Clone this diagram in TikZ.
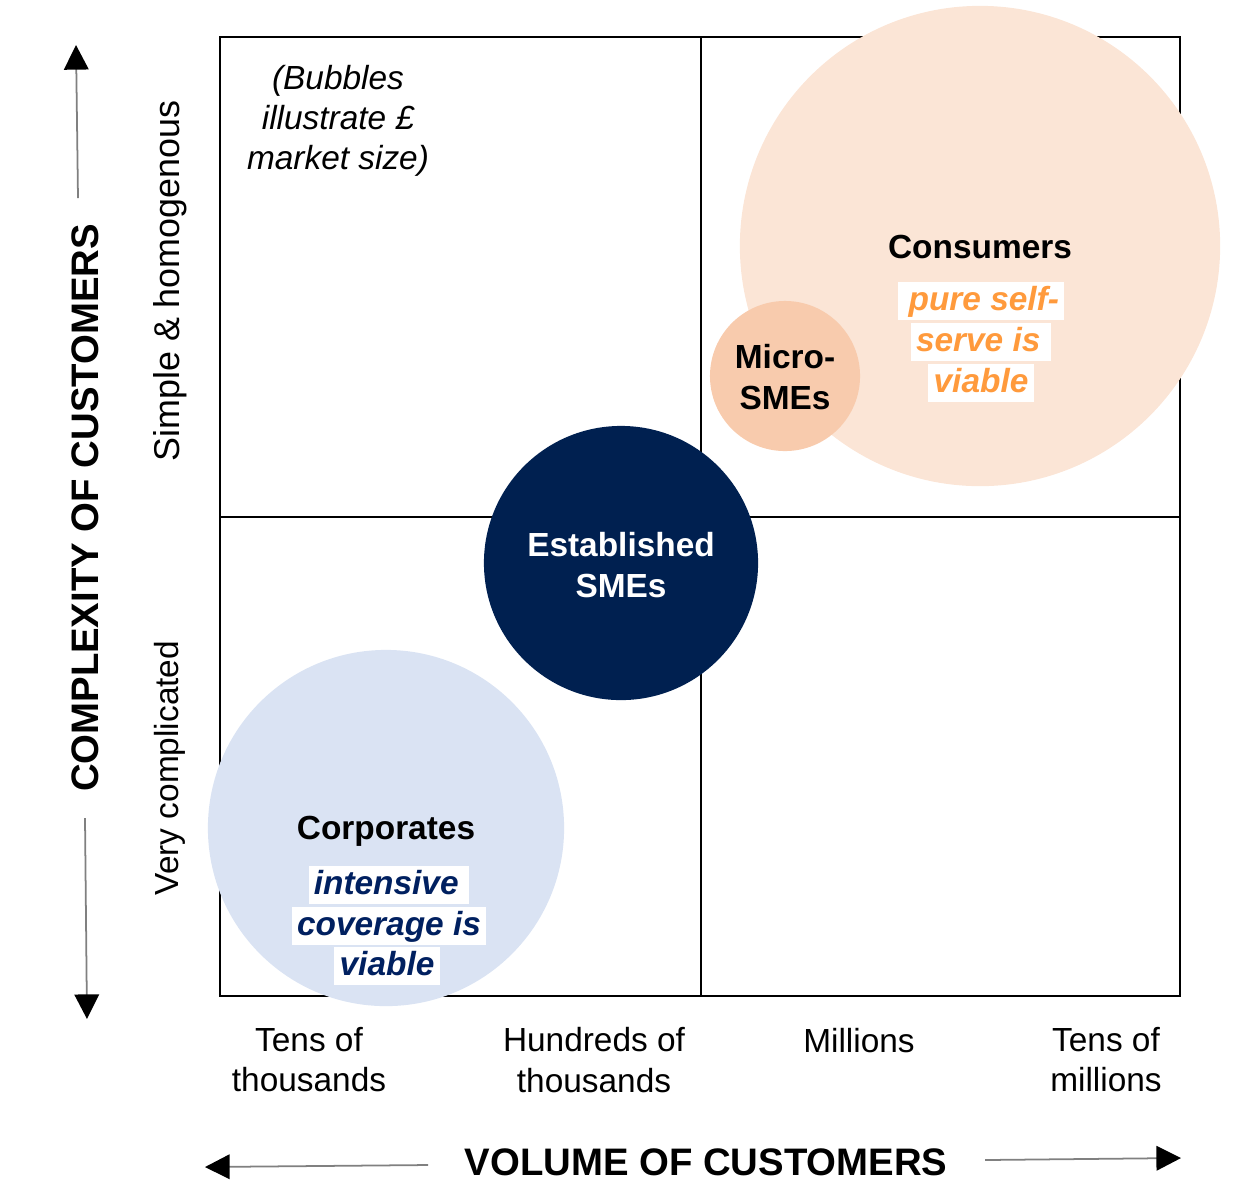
\documentclass[tikz,border=0pt]{standalone}
\usepackage{fontspec}
\setmainfont{Liberation Sans}
\usetikzlibrary{arrows.meta,positioning}
\definecolor{consfill}{HTML}{FBE5D6}
\definecolor{microfill}{HTML}{F8CBAD}
\definecolor{estfill}{HTML}{002050}
\definecolor{corpfill}{HTML}{DAE3F3}
\definecolor{orangetext}{HTML}{FF9A3C}
\definecolor{navytext}{HTML}{002060}
\tikzset{
  bubble/.style={circle, inner sep=0pt, draw=none},
  axistitle/.style={font=\fontsize{10.9}{13}\selectfont\bfseries},
  tick/.style={font=\fontsize{9.5}{11.4}\selectfont, align=center},
  bubblename/.style={font=\fontsize{9.5}{11.4}\selectfont\bfseries, align=center},
  verdict/.style={fill=white, inner xsep=1.5pt, inner ysep=0.6pt, text height=7.6pt, text depth=2pt,
    font=\fontsize{9.5}{11.4}\selectfont\bfseries\itshape},
  axisarrow/.style={draw=gray, line width=0.5pt, -{Triangle[length=7pt,width=7pt,color=black]}}
}

\begin{document}
\begin{tikzpicture}[x=0.01cm, y=-0.01cm]
\useasboundingbox (0,0) rectangle (1252,1202);

% quadrant frame
\draw[line width=0.5pt] (220,37) rectangle (1180,996);
\draw[line width=0.5pt] (701,37) -- (701,996);
\draw[line width=0.5pt] (220,517) -- (1180,517);

% bubbles
\node[bubble, fill=consfill, minimum size=4.8cm] (consumers) at (980,246) {};
\node[bubble, fill=microfill, minimum size=1.5cm] (micro) at (785,376) {};
\node[bubble, fill=estfill, minimum size=2.74cm] (established) at (621,563) {};
\node[bubble, fill=corpfill, minimum size=3.56cm] (corporates) at (386,828) {};

% bubble texts
\node[bubblename] (consname) at (980,247) {Consumers};
\node[verdict, text=orangetext] (cons1) at (981,301) {\,pure self-};
\node[verdict, text=orangetext] (cons2) at (981,342) {serve is\,};
\node[verdict, text=orangetext] (cons3) at (981,383) {viable};
\node[bubblename] (microname) at (785,377) {Micro-\\SMEs};
\node[bubblename, text=white] (estname) at (621,565) {Established\\SMEs};
\node[bubblename] (corpname) at (386,831) {Corporates};
\node[verdict, text=navytext] (corp1) at (389,885) {intensive\,};
\node[verdict, text=navytext] (corp2) at (389,926) {coverage is};
\node[verdict, text=navytext] (corp3) at (387,966) {viable};

\node[tick, font=\fontsize{9.5}{11.4}\selectfont\itshape] (note) at (338,121) {(Bubbles\\illustrate £\\market size)};

% vertical axis
\node[axistitle, rotate=90] (complexity) at (85,508) {COMPLEXITY OF CUSTOMERS};
\node[tick, rotate=90, font=\fontsize{10.2}{12}\selectfont] (simple) at (170,281) {Simple \& homogenous};
\node[tick, rotate=90] (complicated) at (170,768) {Very complicated};
\coordinate (up0) at (78,198);
\coordinate (up1) at (76,45);
\coordinate (down0) at (85,818);
\coordinate (down1) at (87,1019);
\draw[axisarrow] (up0) -- (up1);
\draw[axisarrow] (down0) -- (down1);

% horizontal axis
\node[tick] (tensk) at (309,1060) {Tens of\\thousands};
\node[tick] (hundredsk) at (594,1060) {Hundreds of\\thousands};
\node[tick, anchor=base] (millions) at (859,1052) {Millions};
\node[tick] (tensm) at (1106,1060) {Tens of\\millions};
\node[axistitle] (volume) at (706,1162) {VOLUME OF CUSTOMERS};
\coordinate (left0) at (428,1165);
\coordinate (left1) at (205,1167);
\coordinate (right0) at (985,1160);
\coordinate (right1) at (1181,1158);
\draw[axisarrow] (left0) -- (left1);
\draw[axisarrow] (right0) -- (right1);
\end{tikzpicture}
\end{document}
